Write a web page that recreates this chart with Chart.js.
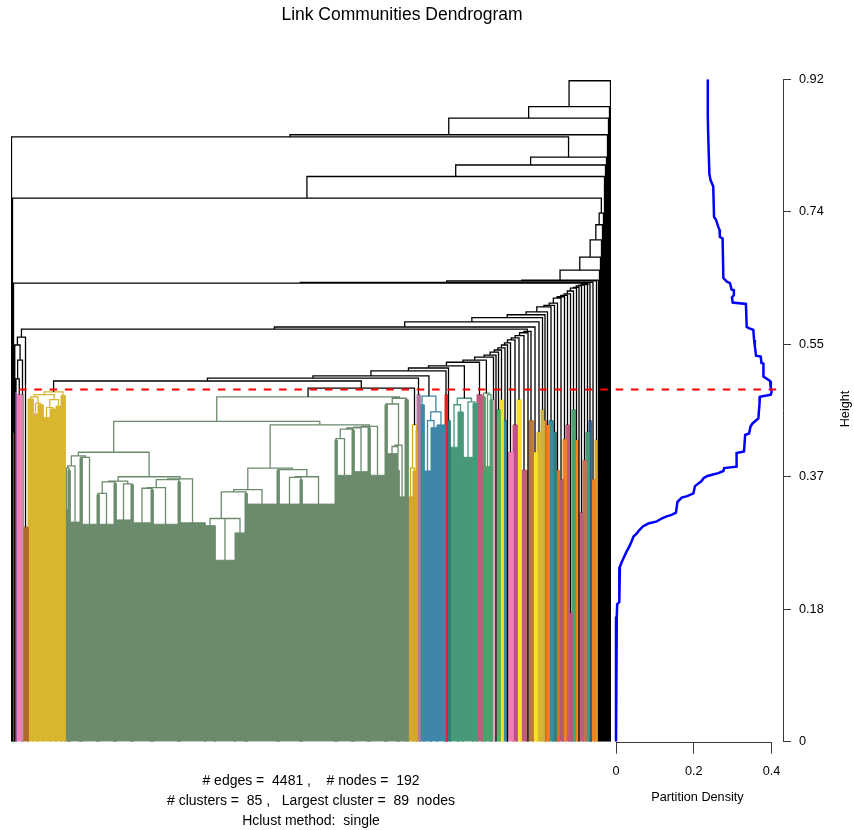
<!DOCTYPE html>
<html>
<head>
<meta charset="utf-8">
<title>Link Communities Dendrogram</title>
<script src="https://cdn.jsdelivr.net/npm/chart.js@4.4.1/dist/chart.umd.min.js"></script>
<style>
  html, body { margin: 0; padding: 0; background: #fff; }
  #wrap { position: relative; width: 854px; height: 830px; }
  #wrap canvas { position: absolute; left: 0; top: 0; }
</style>
</head>
<body>
<div id="wrap">
  <canvas id="dendro" width="854" height="830"></canvas>
  <canvas id="density" width="854" height="830"></canvas>
</div>
<script>
const chartTitle = 'Link Communities Dendrogram';
const summaryLines = [
  '# edges =  4481 ,    # nodes =  192',
  '# clusters =  85 ,   Largest cluster =  89  nodes',
  'Hclust method:  single'
];
const cutHeight = 0.489;
const heightTicks = [0, 0.184, 0.368, 0.552, 0.736, 0.92];
const heightTickLabels = ['0', '0.18', '0.37', '0.55', '0.74', '0.92'];
const densityTicks = [0, 0.2, 0.4];

// cluster colours, index 0 = edges left on their own
const groupColor = [
  '#000000', '#e3231c', '#9b5fa5', '#f07eb4', '#4daf6a', '#b0692d', '#d8b62e',
  '#6b8b6c', '#d4a72c', '#b07a9e', '#3f87aa', '#2f7f7a', '#48997a', '#c25c7e',
  '#4ba36d', '#d9a5bd', '#f6e02b', '#c0507f', '#b97a3c', '#c9b24a', '#f08221',
  '#3a8aa0', '#e8662a', '#b4587a', '#c8704e', '#2a5a8c'
];

// leaf blocks in dendrogram order: span on the leaf axis, height reached
// inside the block, and the cluster it belongs to
const blockSpan = [
  1, 1, 1, 1.5, 1, 5.5, 1, 5,
  5, 5, 5, 7, 6, 5, 4,
  3, 2, 10, 2, 15, 2, 15, 2, 15, 2, 18, 2, 25, 2, 25,
  10, 20, 10, 2, 30, 2, 21, 2, 33,
  2, 15, 2, 14, 2, 15,
  2, 10, 2, 6, 3,
  5, 3, 1, 3, 4, 7, 6, 8, 2, 3, 8, 5, 10, 4, 5, 3, 5, 2,
  3, 2, 3, 3, 4, 1, 5, 4, 4, 6, 2, 4, 4, 4, 3, 2, 3, 4, 3, 3, 4, 3, 3, 3, 3, 3, 2, 3, 3, 3, 2, 4, 3,
  1, 1, 1, 1, 1, 1, 1, 1, 1, 1, 1, 1, 1
];
const blockTop = [
  0, 0, 0.429, 0, 0.486, 0.482, 0.482, 0.298,
  0.476, 0.455, 0.468, 0.450, 0.462, 0.466, 0.481,
  0.322, 0.377, 0.305, 0.394, 0.302, 0.343, 0.302, 0.359, 0.308, 0.357, 0.304, 0.350, 0.302, 0.361, 0.304,
  0.300, 0.252, 0.290, 0.345, 0.330, 0.377, 0.330, 0.364, 0.330,
  0.419, 0.370, 0.433, 0.375, 0.436, 0.370,
  0.468, 0.400, 0.377, 0.340, 0.475,
  0.340, 0.376, 0.433, 0.482, 0.468, 0.376, 0.436, 0.440, 0.482, 0.446, 0.409, 0.458, 0.395, 0.470, 0.482, 0.479, 0.382, 0.475,
  0.475, 0, 0.461, 0.475, 0.446, 0, 0.402, 0.440, 0.475, 0.377, 0, 0.446, 0.402, 0.430, 0.461, 0.446, 0.440,
  0.446, 0.430, 0.377, 0.364, 0.420, 0.440, 0.179, 0.461, 0.419, 0, 0.318, 0.391, 0.430, 0.446, 0.364, 0.419,
  0, 0, 0, 0, 0, 0, 0, 0, 0, 0, 0, 0, 0
];
const blockGroup = [
  0, 0, 1, 0, 2, 3, 4, 5,
  6, 6, 6, 6, 6, 6, 6,
  7, 7, 7, 7, 7, 7, 7, 7, 7, 7, 7, 7, 7, 7, 7,
  7, 7, 7, 7, 7, 7, 7, 7, 7,
  7, 7, 7, 7, 7, 7,
  7, 7, 7, 7, 7,
  8, 8, 8, 9, 10, 10, 10, 10, 1, 11, 12, 12, 12, 12, 13, 14, 14, 14,
  15, 0, 4, 16, 21, 0, 3, 17, 16, 13, 0, 18, 16, 6, 19, 22, 20,
  21, 11, 22, 23, 20, 13, 17, 14, 20, 0, 13, 24, 12, 25, 20, 8,
  0, 0, 0, 0, 0, 0, 0, 0, 0, 0, 0, 0, 0
];
// height at which each pair of neighbouring blocks is joined (single linkage)
const mergeHeight = [
  0.840, 0.755, 0.637, 0.551, 0.504, 0.530, 0.562, 0.573,
  0.479, 0.470, 0.482, 0.464, 0.475, 0.486, 0.501,
  0.380, 0.383, 0.397, 0.395, 0.402, 0.345, 0.361, 0.362, 0.358, 0.368, 0.352, 0.353, 0.364, 0.365, 0.445,
  0.310, 0.310, 0.347, 0.350, 0.380, 0.378, 0.367, 0.368, 0.440,
  0.421, 0.434, 0.436, 0.437, 0.438, 0.479,
  0.469, 0.410, 0.412, 0.477, 0.491,
  0.380, 0.440, 0.505, 0.508, 0.480, 0.446, 0.458, 0.515, 0.519, 0.522, 0.468, 0.477, 0.472, 0.527, 0.530, 0.484, 0.482, 0.534,
  0.537, 0.541, 0.544, 0.547, 0.551, 0.554, 0.558, 0.561, 0.564, 0.568, 0.570, 0.576, 0.583, 0.589, 0.593, 0.597, 0.604,
  0.606, 0.609, 0.616, 0.618, 0.620, 0.622, 0.626, 0.630, 0.631, 0.633, 0.634, 0.635, 0.636, 0.638, 0.640, 0.641,
  0.655, 0.673, 0.697, 0.718, 0.734, 0.785, 0.801, 0.812, 0.843, 0.866, 0.882, 0.918
];

// partition density along the height axis
const pdHeight = [
  0.920, 0.868, 0.843, 0.789, 0.780, 0.771, 0.729, 0.725, 0.715, 0.711, 0.701, 0.699,
  0.644, 0.639, 0.637, 0.628, 0.627, 0.620, 0.617, 0.610, 0.608, 0.576, 0.574, 0.572,
  0.558, 0.549, 0.536, 0.535, 0.526, 0.525, 0.507, 0.501, 0.491, 0.486, 0.482, 0.479,
  0.470, 0.449, 0.442, 0.438, 0.428, 0.426, 0.403, 0.401, 0.382, 0.380, 0.376, 0.373,
  0.369, 0.366, 0.362, 0.355, 0.345, 0.341, 0.339, 0.333, 0.318, 0.315, 0.313, 0.310,
  0.306, 0.303, 0.299, 0.294, 0.289, 0.285, 0.278, 0.271, 0.264, 0.257, 0.250, 0.243,
  0.234, 0.194, 0.191, 0.174, 0.123, 0
];
const pdValue = [
  0.236, 0.236, 0.237, 0.240, 0.243, 0.250, 0.252, 0.257, 0.263, 0.266, 0.267, 0.274,
  0.276, 0.285, 0.293, 0.297, 0.303, 0.303, 0.298, 0.300, 0.334, 0.336, 0.343, 0.353,
  0.355, 0.357, 0.360, 0.372, 0.374, 0.379, 0.379, 0.396, 0.398, 0.400, 0.398, 0.370,
  0.369, 0.366, 0.351, 0.346, 0.342, 0.332, 0.329, 0.310, 0.310, 0.278, 0.276, 0.263,
  0.235, 0.225, 0.220, 0.203, 0.199, 0.183, 0.169, 0.158, 0.154, 0.143, 0.130, 0.117,
  0.105, 0.083, 0.069, 0.060, 0.053, 0.045, 0.040, 0.034, 0.027, 0.021, 0.015, 0.010,
  0.009, 0.008, 0.003, 0.002, 0, 0
];

const fontFamily = '"Liberation Sans", Arial, Helvetica, sans-serif';
const axisColor = '#3a3a3a';
Chart.defaults.font.family = fontFamily;
Chart.defaults.color = '#000';

// ---- build the tree from the neighbour merge heights ----
const starts = [];
let total = 0;
blockSpan.forEach(s => { starts.push(total); total += s; });

function build(lo, hi) {
  if (lo === hi) {
    return { x: starts[lo] + blockSpan[lo] / 2, h: blockTop[lo], group: blockGroup[lo], leaf: true };
  }
  let k = lo;
  for (let i = lo + 1; i < hi; i++) if (mergeHeight[i] > mergeHeight[k]) k = i;
  const left = build(lo, k);
  const right = build(k + 1, hi);
  const h = mergeHeight[k];
  return { x: (left.x + right.x) / 2, h, left, right, group: h < cutHeight ? left.group : 0 };
}
const root = build(0, blockSpan.length - 1);

const paths = new Map();
function addPath(color, pts) {
  if (!paths.has(color)) paths.set(color, []);
  const arr = paths.get(color);
  if (arr.length) arr.push({ x: pts[0].x, y: null });
  pts.forEach(p => arr.push(p));
}
function walk(node) {
  if (node.leaf) return;
  const color = groupColor[node.group];
  addPath(color, [
    { x: node.left.x, y: node.left.h }, { x: node.left.x, y: node.h },
    { x: node.right.x, y: node.h }, { x: node.right.x, y: node.right.h }
  ]);
  walk(node.left);
  walk(node.right);
}
walk(root);

const datasets = [];
// dense bundles of leaves inside each cluster
blockSpan.forEach((s, i) => {
  if (!blockGroup[i] || !blockTop[i]) return;
  const x0 = starts[i], x1 = starts[i] + s, c = groupColor[blockGroup[i]];
  datasets.push({
    data: [{ x: x0, y: 0 }, { x: x0, y: blockTop[i] }, { x: x1, y: blockTop[i] }, { x: x1, y: 0 }],
    showLine: true, fill: 'origin', backgroundColor: c, borderColor: c, borderWidth: 1,
    pointRadius: 0, order: 3
  });
});
paths.forEach((pts, color) => {
  datasets.push({
    data: pts, showLine: true, borderColor: color, borderWidth: 1.3,
    pointRadius: 0, spanGaps: false, order: color === '#000000' ? 1 : 2
  });
});
datasets.push({
  data: [{ x: 0, y: cutHeight }, { x: total, y: cutHeight }],
  showLine: true, borderColor: '#ff0000', borderWidth: 2,
  borderDash: [7.5, 7.8], borderDashOffset: 7.3, pointRadius: 0, order: 0
});

const captions = {
  id: 'captions',
  afterDraw(chart) {
    const { ctx, chartArea } = chart;
    ctx.save();
    ctx.fillStyle = '#000';
    ctx.textAlign = 'center';
    ctx.textBaseline = 'middle';
    ctx.font = '17.5px ' + fontFamily;
    ctx.fillText(chartTitle, 402, 15);
    ctx.font = '14px ' + fontFamily;
    const cx = (chartArea.left + chartArea.right) / 2;
    summaryLines.forEach((t, i) => ctx.fillText(t, cx, 781 + i * 20));
    ctx.restore();
  }
};

new Chart(document.getElementById('dendro'), {
  type: 'scatter',
  data: { datasets },
  options: {
    responsive: false,
    animation: false,
    events: [],
    layout: { padding: { left: 11, right: 243, top: 79.3, bottom: 88.3 } },
    plugins: { legend: { display: false }, tooltip: { enabled: false } },
    scales: {
      x: { type: 'linear', display: false, min: 0, max: total },
      y: { type: 'linear', display: false, min: 0, max: 0.92 }
    }
  },
  plugins: [captions]
});

// ---- partition density panel with the height axis ----
const densityFrame = {
  id: 'densityFrame',
  afterDraw(chart) {
    const { ctx, chartArea } = chart;
    const xs = chart.scales.x;
    ctx.save();
    ctx.strokeStyle = axisColor;
    ctx.lineWidth = 1;
    const y = Math.round(chartArea.bottom) + 0.5;
    ctx.beginPath();
    ctx.moveTo(xs.getPixelForValue(densityTicks[0]), y);
    ctx.lineTo(xs.getPixelForValue(densityTicks[densityTicks.length - 1]), y);
    ctx.stroke();
    ctx.fillStyle = '#000';
    ctx.font = '12.7px ' + fontFamily;
    ctx.textAlign = 'center';
    ctx.textBaseline = 'middle';
    ctx.translate(845, 409);
    ctx.rotate(-Math.PI / 2);
    ctx.fillText('Height', 0, 0);
    ctx.restore();
  }
};

new Chart(document.getElementById('density'), {
  type: 'scatter',
  data: {
    datasets: [
      {
        data: pdHeight.map((h, i) => ({ x: pdValue[i], y: h })),
        showLine: true, borderColor: '#0000ff', borderWidth: 2.5, pointRadius: 0, order: 1
      },
      {
        data: [{ x: -0.0103, y: cutHeight }, { x: 0.4293, y: cutHeight }],
        showLine: true, borderColor: '#ff0000', borderWidth: 2,
        borderDash: [7.5, 7.8], borderDashOffset: 608.3, pointRadius: 0, order: 0
      }
    ]
  },
  options: {
    responsive: false,
    animation: false,
    events: [],
    layout: { padding: { left: 612, right: 0, top: 79.3, bottom: 0 } },
    plugins: { legend: { display: false }, tooltip: { enabled: false } },
    scales: {
      x: {
        type: 'linear', position: 'bottom', min: -0.0103, max: 0.4293,
        afterBuildTicks: s => { s.ticks = densityTicks.map(v => ({ value: v })); },
        afterFit: s => { s.height = 88.3; },
        grid: { drawOnChartArea: false, drawTicks: true, tickLength: 12, color: axisColor, tickColor: axisColor },
        border: { display: false },
        ticks: { font: { size: 12.7 }, color: '#000', padding: 10, maxRotation: 0, callback: v => String(v) },
        title: { display: true, text: 'Partition Density', font: { size: 12.7 }, color: '#000', padding: { top: 0, bottom: 25 } }
      },
      y: {
        type: 'linear', position: 'right', min: 0, max: 0.92,
        afterBuildTicks: s => { s.ticks = heightTicks.map(v => ({ value: v })); },
        afterFit: s => { s.width = 71; },
        grid: { drawOnChartArea: false, drawTicks: true, tickLength: 8, color: axisColor, tickColor: axisColor },
        border: { display: true, color: axisColor, width: 1 },
        ticks: { font: { size: 12.7 }, color: '#000', padding: 8, callback: (v, i) => heightTickLabels[i] }
      }
    }
  },
  plugins: [densityFrame]
});
</script>
</body>
</html>
